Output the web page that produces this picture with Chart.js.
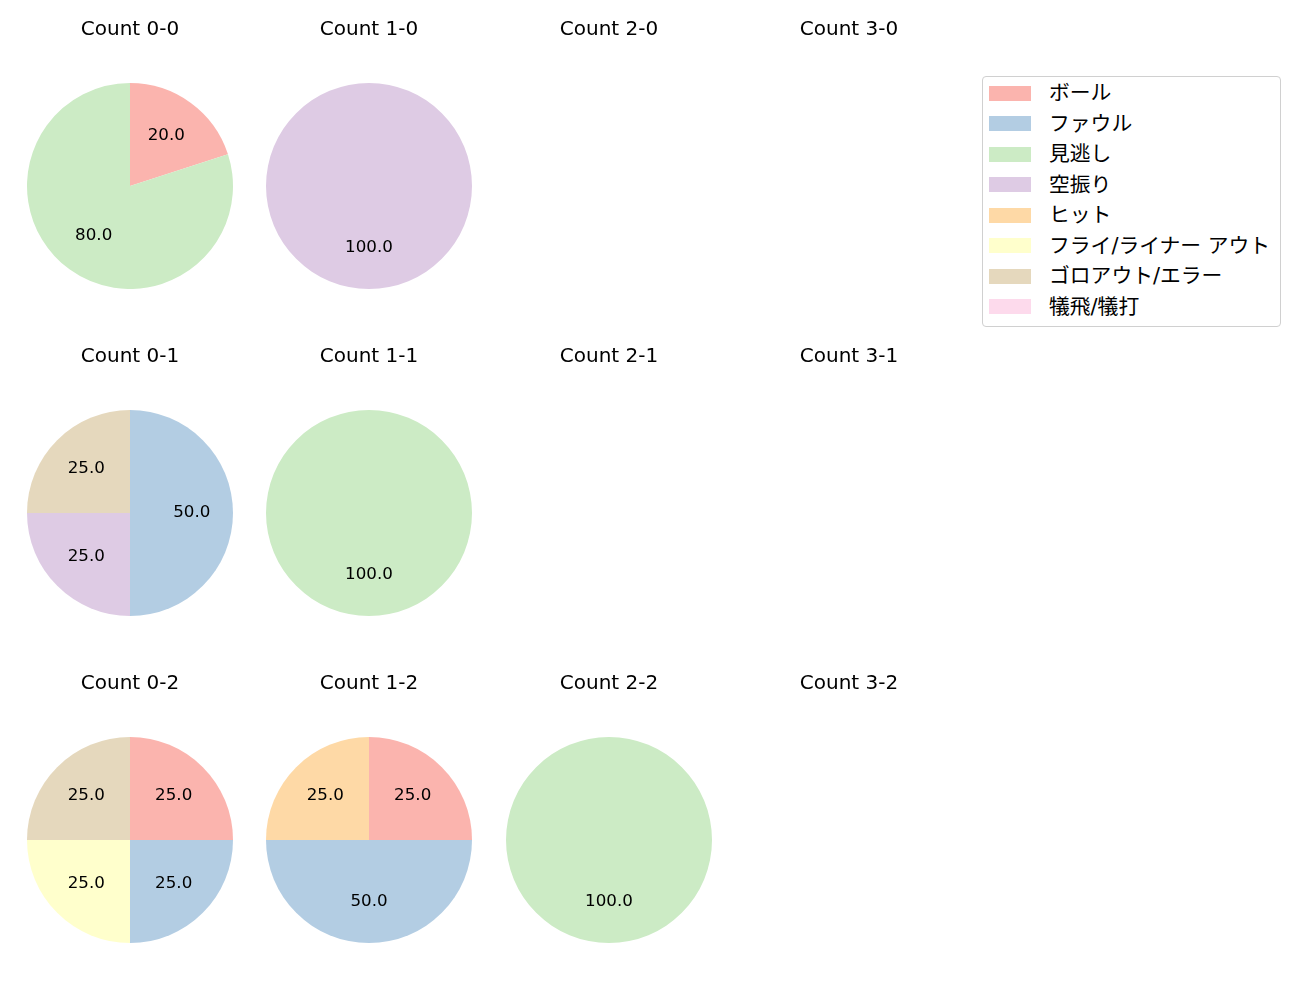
<!DOCTYPE html>
<html>
<head>
<meta charset="utf-8">
<script src="https://cdn.jsdelivr.net/npm/chart.js@4"></script>
<style>
  body { margin: 0; background: #fff; font-family: "DejaVu Sans", "Noto Sans CJK JP", sans-serif; }
  #page { position: relative; width: 1300px; height: 1000px; }
  .cell { position: absolute; width: 240px; height: 279px; }
  #legend {
    position: absolute; left: 982px; top: 76px; width: 297px; height: 249px;
    border: 1px solid #d0d0d0; border-radius: 4px; background: #fff;
  }
  .row { position: absolute; left: 0; height: 30px; display: flex; align-items: center; }
  .swatch { width: 42px; height: 15px; margin-left: 6px; flex: none; }
  .name { margin-left: 18px; font-size: 20.8px; line-height: 30px; color: #000; white-space: nowrap; }
</style>
</head>
<body>
<div id="page"><div id="legend"></div></div>
<script>
const CATEGORIES = ["ボール", "ファウル", "見逃し", "空振り", "ヒット", "フライ/ライナー アウト", "ゴロアウト/エラー", "犠飛/犠打"];
const COLORS = ["#fbb4ae", "#b3cde3", "#ccebc5", "#decbe4", "#fed9a6", "#ffffcc", "#e5d8bd", "#fddaec"];

// percentages per count, in CATEGORIES order
const COUNT_0_0 = [20, 0, 80, 0, 0, 0, 0, 0];
const COUNT_1_0 = [0, 0, 0, 100, 0, 0, 0, 0];
const COUNT_2_0 = [0, 0, 0, 0, 0, 0, 0, 0];
const COUNT_3_0 = [0, 0, 0, 0, 0, 0, 0, 0];
const COUNT_0_1 = [0, 50, 0, 25, 0, 0, 25, 0];
const COUNT_1_1 = [0, 0, 100, 0, 0, 0, 0, 0];
const COUNT_2_1 = [0, 0, 0, 0, 0, 0, 0, 0];
const COUNT_3_1 = [0, 0, 0, 0, 0, 0, 0, 0];
const COUNT_0_2 = [25, 25, 0, 0, 0, 25, 25, 0];
const COUNT_1_2 = [25, 50, 0, 0, 25, 0, 0, 0];
const COUNT_2_2 = [0, 0, 100, 0, 0, 0, 0, 0];
const COUNT_3_2 = [0, 0, 0, 0, 0, 0, 0, 0];

const PANELS = [
  ["Count 0-0", COUNT_0_0], ["Count 1-0", COUNT_1_0], ["Count 2-0", COUNT_2_0], ["Count 3-0", COUNT_3_0],
  ["Count 0-1", COUNT_0_1], ["Count 1-1", COUNT_1_1], ["Count 2-1", COUNT_2_1], ["Count 3-1", COUNT_3_1],
  ["Count 0-2", COUNT_0_2], ["Count 1-2", COUNT_1_2], ["Count 2-2", COUNT_2_2], ["Count 3-2", COUNT_3_2],
];

const COL_CENTERS = [130, 369, 609, 849];
const ROW_TOPS = [10, 337, 664];
const FONT = "'DejaVu Sans', 'Noto Sans CJK JP', sans-serif";
const LABEL_SIZE = 16.7;

// draws the percentage inside each slice at 0.6 of the radius
const pctLabels = {
  id: "pctLabels",
  afterDatasetsDraw(chart) {
    const ctx = chart.ctx;
    const meta = chart.getDatasetMeta(0);
    const values = chart.data.datasets[0].data;
    ctx.save();
    ctx.fillStyle = "#000";
    ctx.font = LABEL_SIZE + "px " + FONT;
    ctx.textAlign = "center";
    ctx.textBaseline = "alphabetic";
    meta.data.forEach((arc, i) => {
      if (!values[i]) return;
      const { x, y, startAngle, endAngle, outerRadius } = arc.getProps(["x", "y", "startAngle", "endAngle", "outerRadius"], true);
      const mid = (startAngle + endAngle) / 2;
      const r = outerRadius * 0.6;
      ctx.fillText(values[i].toFixed(1), x + Math.cos(mid) * r, y + Math.sin(mid) * r + LABEL_SIZE * 0.25);
    });
    ctx.restore();
  },
};

const page = document.getElementById("page");
PANELS.forEach(([title, values], i) => {
  const col = i % 4;
  const row = Math.floor(i / 4);
  const cell = document.createElement("div");
  cell.className = "cell";
  cell.style.left = (COL_CENTERS[col] - 120) + "px";
  cell.style.top = ROW_TOPS[row] + "px";
  const canvas = document.createElement("canvas");
  cell.appendChild(canvas);
  page.appendChild(cell);

  new Chart(canvas, {
    type: "pie",
    data: {
      labels: CATEGORIES,
      datasets: [{ data: values, backgroundColor: COLORS, borderWidth: 0, hoverOffset: 0 }],
    },
    options: {
      responsive: true,
      maintainAspectRatio: false,
      animation: false,
      events: [],
      plugins: {
        legend: { display: false },
        tooltip: { enabled: false },
        title: {
          display: true,
          text: title,
          color: "#000",
          font: { family: FONT, size: 20, weight: "normal", lineHeight: 1.2 },
          padding: { top: 8, bottom: 41 },
        },
      },
    },
    plugins: [pctLabels],
  });
});

const legend = document.getElementById("legend");
CATEGORIES.forEach((name, i) => {
  const row = document.createElement("div");
  row.className = "row";
  row.style.top = (1 + 30.5 * i) + "px";
  row.innerHTML = `<div class="swatch" style="background:${COLORS[i]}"></div><div class="name">${name}</div>`;
  legend.appendChild(row);
});
</script>
</body>
</html>
